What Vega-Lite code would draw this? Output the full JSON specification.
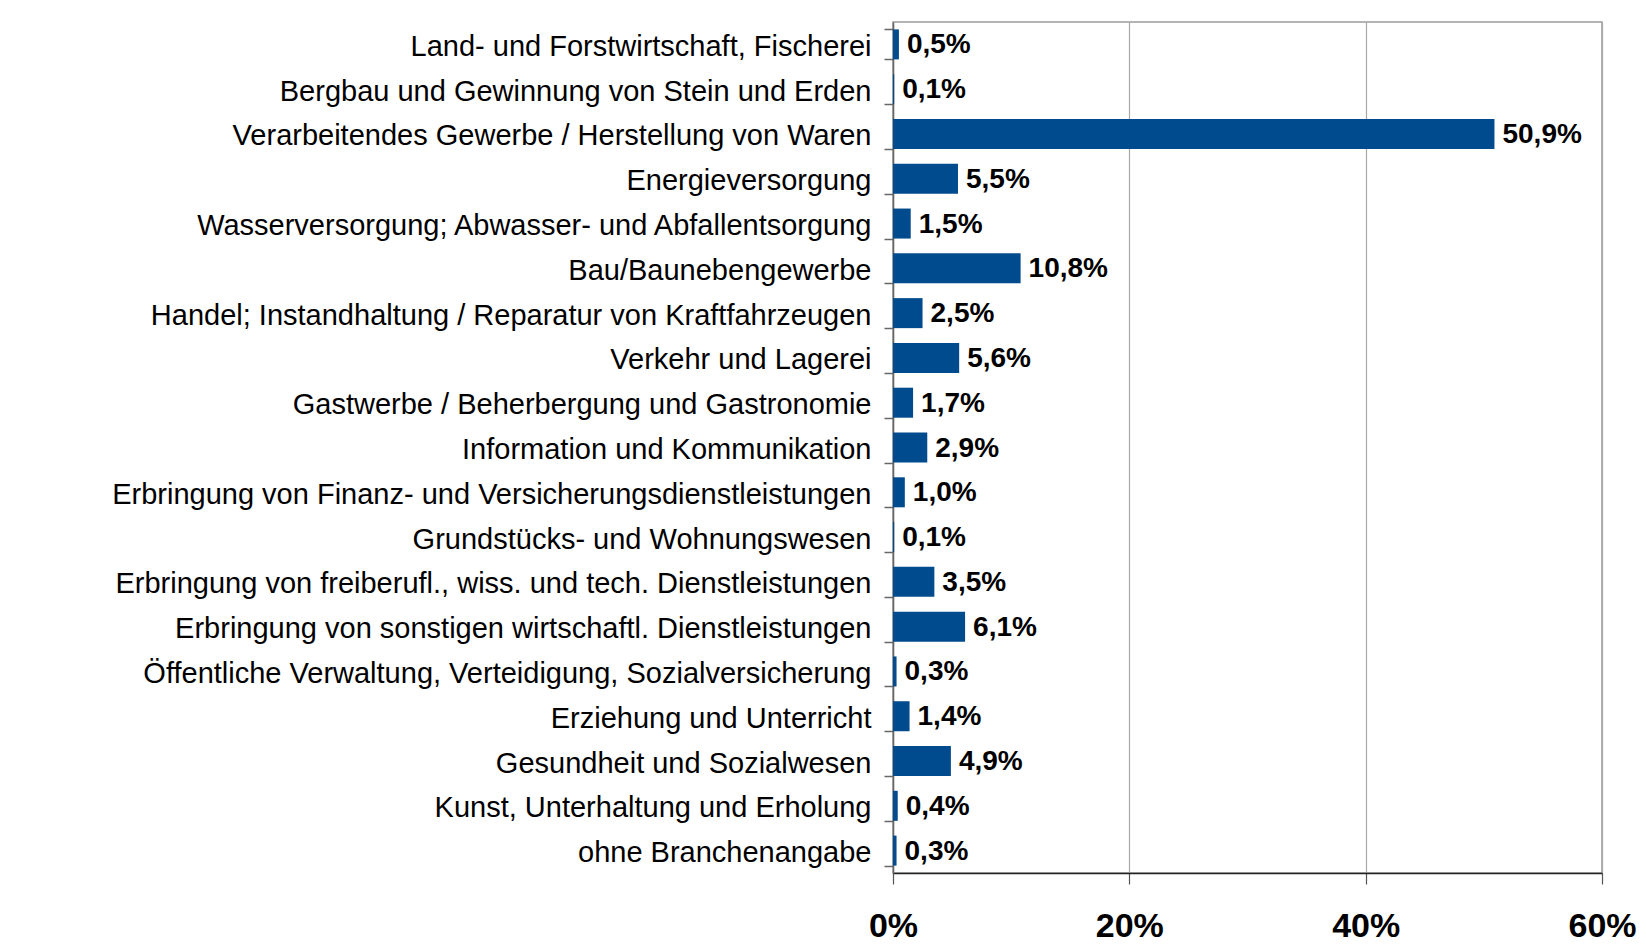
{
  "$schema": "https://vega.github.io/schema/vega-lite/v6.json",
  "width": 709,
  "height": 851,
  "autosize": {"type": "none"},
  "padding": {"left": 893, "top": 22, "right": 44, "bottom": 77},
  "background": "white",
  "config": {
    "locale": {"number": {"decimal": ",", "thousands": ".", "grouping": [3], "currency": ["", " €"]}},
    "view": {"stroke": "#9a9a9a", "strokeWidth": 1.5},
    "font": "Liberation Sans"
  },
  "data": {
    "values": [
      {"branche": "Land- und Forstwirtschaft, Fischerei", "anteil": 0.005},
      {"branche": "Bergbau und Gewinnung von Stein und Erden", "anteil": 0.001},
      {"branche": "Verarbeitendes Gewerbe / Herstellung von Waren", "anteil": 0.509},
      {"branche": "Energieversorgung", "anteil": 0.055},
      {"branche": "Wasserversorgung; Abwasser- und Abfallentsorgung", "anteil": 0.015},
      {"branche": "Bau/Baunebengewerbe", "anteil": 0.108},
      {"branche": "Handel; Instandhaltung / Reparatur von Kraftfahrzeugen", "anteil": 0.025},
      {"branche": "Verkehr und Lagerei", "anteil": 0.056},
      {"branche": "Gastwerbe / Beherbergung und Gastronomie", "anteil": 0.017},
      {"branche": "Information und Kommunikation", "anteil": 0.029},
      {"branche": "Erbringung von Finanz- und Versicherungsdienstleistungen", "anteil": 0.010},
      {"branche": "Grundstücks- und Wohnungswesen", "anteil": 0.001},
      {"branche": "Erbringung von freiberufl., wiss. und tech. Dienstleistungen", "anteil": 0.035},
      {"branche": "Erbringung von sonstigen wirtschaftl. Dienstleistungen", "anteil": 0.061},
      {"branche": "Öffentliche Verwaltung, Verteidigung, Sozialversicherung", "anteil": 0.003},
      {"branche": "Erziehung und Unterricht", "anteil": 0.014},
      {"branche": "Gesundheit und Sozialwesen", "anteil": 0.049},
      {"branche": "Kunst, Unterhaltung und Erholung", "anteil": 0.004},
      {"branche": "ohne Branchenangabe", "anteil": 0.003}
    ]
  },
  "encoding": {
    "y": {
      "field": "branche",
      "type": "nominal",
      "sort": null,
      "scale": {"paddingInner": 0.33, "paddingOuter": 0.165},
      "axis": {
        "title": null,
        "tickBand": "extent",
        "tickSize": 9,
        "tickColor": "#666666",
        "tickWidth": 1.5,
        "domainColor": "#666666",
        "domainWidth": 1.5,
        "labelFont": "Liberation Sans",
        "labelFontSize": 29,
        "labelColor": "#000000",
        "labelPadding": 13,
        "labelOffset": 2,
        "labelLimit": 0,
        "grid": false
      }
    },
    "x": {
      "field": "anteil",
      "type": "quantitative",
      "scale": {"domain": [0, 0.6], "nice": false},
      "axis": {
        "title": null,
        "values": [0, 0.2, 0.4, 0.6],
        "format": ".0%",
        "grid": true,
        "gridColor": "#a8a8a8",
        "gridWidth": 1.2,
        "domainColor": "#222222",
        "domainWidth": 1.5,
        "tickColor": "#555555",
        "tickSize": 11,
        "tickWidth": 1.2,
        "labelFont": "Liberation Sans",
        "labelFontSize": 34,
        "labelFontWeight": "bold",
        "labelColor": "#000000",
        "labelPadding": 25,
        "labelFlush": false,
        "labelOverlap": false
      }
    }
  },
  "layer": [
    {"mark": {"type": "bar", "color": "#004b8d"}},
    {
      "mark": {"type": "text", "align": "left", "baseline": "middle", "dx": 8, "dy": 1, "fontSize": 28, "fontWeight": "bold", "color": "#000000", "font": "Liberation Sans"},
      "encoding": {"text": {"field": "anteil", "type": "quantitative", "format": ".1%"}}
    }
  ]
}
